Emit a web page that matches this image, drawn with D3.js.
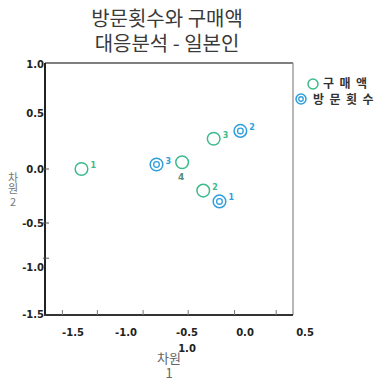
<!DOCTYPE html>
<html><head><meta charset="utf-8">
<script src="https://cdn.jsdelivr.net/npm/d3@7"></script>
<style>
body{margin:0;background:#fff;}
svg{display:block;font-family:"Noto Sans CJK KR","Noto Sans",sans-serif;}
</style></head>
<body>
<svg id="c" width="390" height="382"></svg>
<script>
// ---- data ----
const titleLines = ["방문횟수와 구매액", "대응분석 - 일본인"];
const seriesNames = ["구매액", "방문횟수"];
const purchaseLabels = ["1", "2", "3", "4"];
const purchaseX = [-1.42, -0.36, -0.27, -0.54];
const purchaseY = [0.00, -0.20, 0.27, 0.06];
const visitLabels = ["1", "2", "3"];
const visitX = [-0.22, -0.04, -0.75];
const visitY = [-0.30, 0.34, 0.04];
const xTickLabels = ["-1.5", "-1.0", "-0.5", "0.0", "0.5"];
const xTickValues = [-1.5, -1.0, -0.5, 0.0, 0.5];
const yTickLabels = ["1.0", "0.5", "0.0", "-0.5", "-1.0", "-1.5"];
const yTickValues = [1.0, 0.5, 0.0, -0.5, -1.0, -1.5];
const xTickMarks = [-1.6, -1.27, -0.86, -0.49, -0.09, 0.26];
const yTickMarks = [0.0, -0.5, -0.9];
const xAxisTitle = ["차원", "1"];
const yAxisTitle = ["차원", "2"];
const strayLabel = "1.0";

// ---- layout ----
const svg = d3.select("#c");
const L = 45, R = 293, T = 63, B = 315;
const x = d3.scaleLinear().domain(xTickValues).range([73, 126, 187, 245, 305]);
const y = d3.scaleLinear().domain(yTickValues).range([64, 113, 169, 223, 267, 314]);
const green = "#3dba8c", blue = "#2f9fdc";
const numFont = "DejaVu Sans, sans-serif";

// title
svg.selectAll("text.title").data(titleLines).join("text")
  .attr("class","title").attr("x",167).attr("y",(d,i)=>26+i*25)
  .attr("text-anchor","middle").attr("font-size",20).attr("fill","#3a3a3a").text(d=>d);

// frame
svg.append("line").attr("x1",L).attr("x2",R).attr("y1",T).attr("y2",T).attr("stroke","#555").attr("stroke-width",1.5);
svg.append("line").attr("x1",R).attr("x2",R).attr("y1",T).attr("y2",B).attr("stroke","#888").attr("stroke-width",1.2);
svg.append("line").attr("x1",L).attr("x2",L).attr("y1",T).attr("y2",B+1).attr("stroke","#222").attr("stroke-width",2);
svg.append("line").attr("x1",L-1).attr("x2",R).attr("y1",B).attr("y2",B).attr("stroke","#333").attr("stroke-width",2);

// tick marks
svg.selectAll("line.xt").data(xTickMarks).join("line").attr("class","xt")
  .attr("x1",d=>x(d)).attr("x2",d=>x(d)).attr("y1",B-5).attr("y2",B).attr("stroke","#777");
svg.selectAll("line.yt").data(yTickMarks).join("line").attr("class","yt")
  .attr("y1",d=>y(d)).attr("y2",d=>y(d)).attr("x1",L-2).attr("x2",L+4).attr("stroke","#555");

// tick labels
svg.selectAll("text.xl").data(xTickValues).join("text").attr("class","xl")
  .attr("x",d=>x(d)).attr("y",336).attr("text-anchor","middle")
  .attr("font-size",10).attr("font-weight","bold").attr("fill","#222")
  .attr("font-family",numFont)
  .text((d,i)=>xTickLabels[i]);
svg.selectAll("text.yl").data(yTickValues).join("text").attr("class","yl")
  .attr("x",44).attr("y",d=>y(d)+4).attr("text-anchor","end")
  .attr("font-size",10).attr("font-weight","bold").attr("fill","#222")
  .attr("font-family",numFont)
  .text((d,i)=>yTickLabels[i]);

// stray label
svg.append("text").attr("x",x(-0.5)).attr("y",352).attr("text-anchor","middle")
  .attr("font-size",10).attr("font-weight","bold").attr("fill","#222")
  .attr("font-family",numFont).text(strayLabel);

// axis titles
svg.selectAll("text.xa").data(xAxisTitle).join("text").attr("class","xa")
  .attr("x",169).attr("y",(d,i)=>363+i*15).attr("text-anchor","middle")
  .attr("font-size",13).attr("fill","#666").text(d=>d);
svg.append("text").attr("x",13).attr("y",172)
  .attr("font-size",11).attr("fill","#777")
  .style("writing-mode","vertical-rl").style("text-orientation","upright")
  .text(yAxisTitle[0]);
svg.append("text").attr("x",13).attr("y",206).attr("text-anchor","middle")
  .attr("font-size",11).attr("fill","#777").text(yAxisTitle[1]);

// markers
function greenMark(g, r){ g.append("circle").attr("r",r).attr("fill","none").attr("stroke",green).attr("stroke-width",1.5); }
function blueMark(g, r){
  g.append("circle").attr("r",r).attr("fill","none").attr("stroke",blue).attr("stroke-width",1.5);
  g.append("circle").attr("r",r*0.45).attr("fill","none").attr("stroke",blue).attr("stroke-width",1.3);
}
const pData = purchaseLabels.map((l,i)=>({l, x:purchaseX[i], y:purchaseY[i]}));
const vData = visitLabels.map((l,i)=>({l, x:visitX[i], y:visitY[i]}));

const pg = svg.selectAll("g.p").data(pData).join("g").attr("class","p")
  .attr("transform",d=>`translate(${x(d.x)},${y(d.y)})`);
pg.each(function(){ greenMark(d3.select(this), 6.3); });
pg.append("text").attr("x",d=>d.l==="4"?-4:9).attr("y",d=>d.l==="4"?18:-1)
  .attr("font-size",d=>d.l==="4"?9:8).attr("font-weight","bold")
  .attr("fill",d=>d.l==="4"?"#5a8a78":green).attr("font-family",numFont).text(d=>d.l);

const vg = svg.selectAll("g.v").data(vData).join("g").attr("class","v")
  .attr("transform",d=>`translate(${x(d.x)},${y(d.y)})`);
vg.each(function(){ blueMark(d3.select(this), 6.3); });
vg.append("text").attr("x",9).attr("y",-1).attr("font-size",8).attr("font-weight","bold")
  .attr("fill",blue).attr("font-family",numFont).text(d=>d.l);

// legend
const lg = svg.append("g");
const l1 = lg.append("g").attr("transform","translate(313,84)"); greenMark(l1, 5);
const l2 = lg.append("g").attr("transform","translate(301,99)"); blueMark(l2, 5);
lg.selectAll("text").data(seriesNames).join("text")
  .attr("x",(d,i)=>i===0?323:313).attr("y",(d,i)=>88+i*15.5)
  .attr("font-size",12).attr("font-weight","bold").attr("letter-spacing",5.5)
  .attr("fill","#333").text(d=>d);
</script>
</body></html>
